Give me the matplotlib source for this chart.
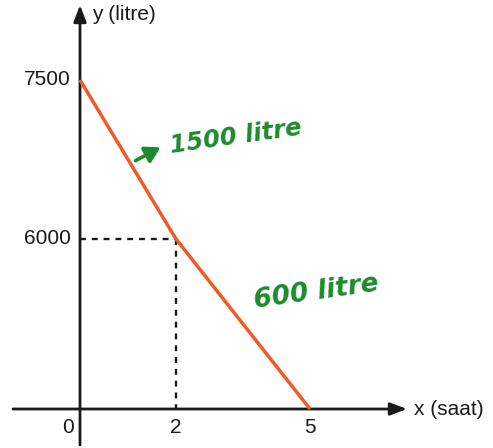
import numpy as np
import matplotlib
matplotlib.use("Agg")
import matplotlib.pyplot as plt
import matplotlib.transforms as mtransforms
import matplotlib.patches as mpatches

# Tank volume over time (schematic, piecewise axes)
x_vals = [0, 2, 5]
y_vals = [7500, 6000, 0]
x_ticks = [0, 2, 5]
y_ticks = [6000, 7500]
rate_labels = ["1500 litre", "600 litre"]

# Piecewise-linear axis scales (scale units are pixels)
def fx(v):
    v = np.asarray(v, dtype=float)
    return np.where(v <= 2, v * 48.0, 96.0 + (v - 2) * 44.67)

def fx_inv(u):
    u = np.asarray(u, dtype=float)
    return np.where(u <= 96.0, u / 48.0, 2 + (u - 96.0) / 44.67)

def fy(v):
    v = np.asarray(v, dtype=float)
    return np.where(v <= 6000, v * 170.0 / 6000, 170.0 + (v - 6000) * 159.0 / 1500)

def fy_inv(u):
    u = np.asarray(u, dtype=float)
    return np.where(u <= 170.0, u * 6000 / 170.0, 6000 + (u - 170.0) * 1500 / 159.0)

W, H = 493, 448
fig = plt.figure(figsize=(W / 100, H / 100), dpi=100)
ax = fig.add_axes([0, 0, 1, 1])
ax.set_xscale("function", functions=(fx, fx_inv))
ax.set_yscale("function", functions=(fy, fy_inv))
ax.set_xlim(float(fx_inv(-80)), float(fx_inv(W - 80)))
ax.set_ylim(float(fy_inv(409 - H)), float(fy_inv(409)))
ax.axis("off")

font = "Liberation Sans"
black = "#1a1a1a"
fs = 15

# axes with arrowheads
arrow_style = "-|>,head_length=1.0,head_width=0.38"
ax.annotate("", xy=(407 / W, 0), xytext=(13 / W, 0),
            xycoords=("axes fraction", "data"), textcoords=("axes fraction", "data"),
            arrowprops=dict(arrowstyle=arrow_style, color=black, lw=2.0,
                            shrinkA=0, shrinkB=0))
ax.annotate("", xy=(0, 1 - 5 / H), xytext=(0, 1 - 445 / H),
            xycoords=("data", "axes fraction"), textcoords=("data", "axes fraction"),
            arrowprops=dict(arrowstyle=arrow_style, color=black, lw=2.0,
                            shrinkA=0, shrinkB=0))
xblend = mtransforms.blended_transform_factory(ax.transAxes, ax.transData)
ax.text(414 / W, 0, "x (saat)", transform=xblend,
        ha="left", va="center", fontsize=fs, family=font, color=black)
ax.text(92 / W, 1 - 14 / H, "y (litre)", transform=ax.transAxes,
        ha="left", va="center", fontsize=fs, family=font, color=black)

# tick labels
for t in y_ticks:
    ax.text(-0.2, t, f"{t}", ha="right", va="center", fontsize=fs,
            family=font, color=black)
for t in x_ticks:
    xt = t - 0.25 if t == 0 else t
    ax.text(xt, -640, f"{t}", ha="center", va="center", fontsize=fs,
            family=font, color=black)

# dashed guides
ax.plot([0, x_vals[1]], [y_vals[1], y_vals[1]], ls=(0, (2.5, 2.5)), color=black, lw=1.7)
ax.plot([x_vals[1], x_vals[1]], [y_vals[1], 0], ls=(0, (2.5, 2.5)), color=black, lw=1.7)

# volume line
ax.plot(x_vals, y_vals, color="#F05A28", lw=2.5, solid_capstyle="butt", zorder=5)

# handwritten rate notes
green = "#1E8A2E"
fig.text(236 / W, 1 - 137 / H, rate_labels[0], ha="center", va="center",
         rotation=8, fontsize=17.5, color=green, family="DejaVu Sans",
         style="italic", weight="bold")
fig.text(316 / W, 1 - 292 / H, rate_labels[1], ha="center", va="center",
         rotation=8, fontsize=19, color=green, family="DejaVu Sans",
         style="italic", weight="bold")
fig.add_artist(mpatches.FancyArrowPatch(
    (133 / W, 1 - 162 / H), (163 / W, 1 - 146 / H), transform=fig.transFigure,
    arrowstyle="-|>,head_length=6,head_width=3.5", color=green, lw=2.6,
    mutation_scale=1.5))

fig.savefig("out.png", dpi=100)
